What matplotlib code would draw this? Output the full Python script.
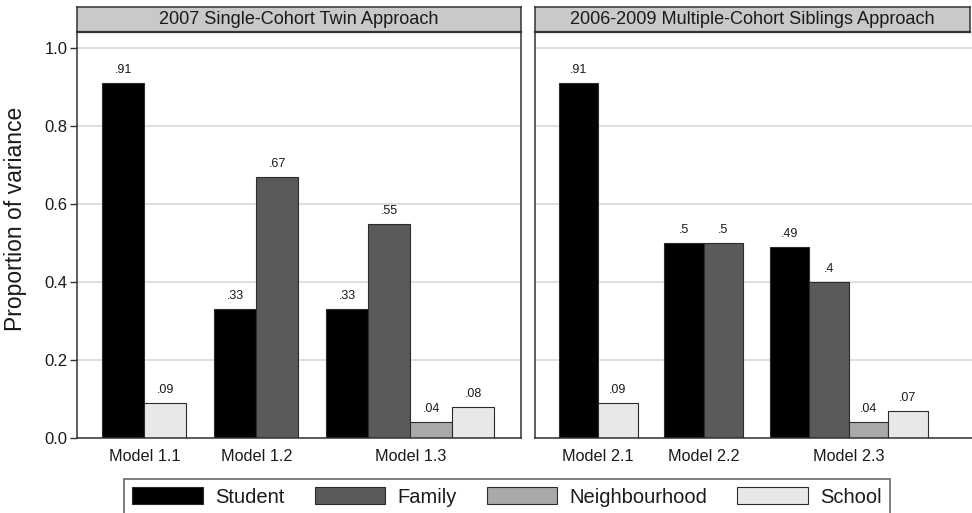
import matplotlib
matplotlib.use("Agg")
import matplotlib.pyplot as plt
import numpy as np

plt.rcParams['font.family'] = ['Liberation Sans', 'DejaVu Sans']

# variance components per model (nan = component not in the model)
components = ['Student', 'Family', 'Neighbourhood', 'School']
colors = ['#000000', '#5a5a5a', '#a9a9a9', '#e8e8e8']

models_twin = ['Model 1.1', 'Model 1.2', 'Model 1.3']
student_twin = [0.91, 0.33, 0.33]
family_twin = [np.nan, 0.67, 0.55]
neigh_twin = [np.nan, np.nan, 0.04]
school_twin = [0.09, np.nan, 0.08]

models_sib = ['Model 2.1', 'Model 2.2', 'Model 2.3']
student_sib = [0.91, 0.50, 0.49]
family_sib = [np.nan, 0.50, 0.40]
neigh_sib = [np.nan, np.nan, 0.04]
school_sib = [0.09, np.nan, 0.07]

titles = ['2007 Single-Cohort Twin Approach',
          '2006-2009 Multiple-Cohort Siblings Approach']

W, H = 972, 513
fig = plt.figure(figsize=(W / 100, H / 100), dpi=100)

def px_axes(x0, y0, x1, y1):
    # axes placed by pixel box (top-left origin)
    return fig.add_axes([x0 / W, 1 - y1 / H, (x1 - x0) / W, (y1 - y0) / H])

def fmt(v):
    s = f"{v:.2f}".rstrip('0')
    return s[1:] if s.startswith('0') else s

MARGIN, GAP = 0.6, 0.67

def draw_panel(ax, models, series, xmax):
    ax.set_ylim(0, 1.042)
    ax.set_xlim(0, xmax)
    ax.set_yticks([0, 0.2, 0.4, 0.6, 0.8, 1.0])
    ax.yaxis.grid(True, color='#dcdcdc', lw=1.3)
    ax.set_axisbelow(True)
    handles = {}
    x = MARGIN
    centers = []
    for g in range(len(models)):
        start = x
        for k, vals in enumerate(series):
            v = vals[g]
            if np.isnan(v):
                continue
            b = ax.bar(x, v, width=1.0, align='edge', color=colors[k],
                       edgecolor='#2b2b2b', linewidth=0.8, label=components[k])
            handles[components[k]] = b
            ax.annotate(fmt(v), (x + 0.5, v), xytext=(0, 5),
                        textcoords='offset points', ha='center', va='bottom',
                        fontsize=9, color='#1a1a1a')
            x += 1
        centers.append((start + x) / 2)
        x += GAP
    ax.set_xticks(centers)
    ax.set_xticklabels(models, fontsize=11.7, color='#1a1a1a')
    ax.tick_params(axis='x', length=0, pad=8)
    for s in ax.spines.values():
        s.set_color('#333333')
        s.set_linewidth(1.1)
    return handles

def strip(x0, x1, text):
    sax = px_axes(x0, 7, x1, 31.7)
    sax.set_facecolor('#c9c9c9')
    sax.set_xticks([])
    sax.set_yticks([])
    for s in sax.spines.values():
        s.set_color('#333333')
        s.set_linewidth(1.1)
    sax.spines['bottom'].set_linewidth(1.6)
    sax.text(0.5, 0.5, text, ha='center', va='center', fontsize=13.1,
             color='#1a1a1a', transform=sax.transAxes)

# left panel: 42 px per bar slot
ax1 = px_axes(77, 31.7, 521, 438)
h = draw_panel(ax1, models_twin,
               [student_twin, family_twin, neigh_twin, school_twin], 444 / 42)
ax1.tick_params(axis='y', length=5, width=1, color='#333333', pad=2,
                labelsize=12, labelcolor='#1a1a1a')
ax1.set_yticklabels(['0.0', '0.2', '0.4', '0.6', '0.8', '1.0'])
ax1.set_ylabel('Proportion of variance', fontsize=16.5, color='#1a1a1a')
ax1.yaxis.set_label_coords(-0.113, 0.54)
ax1.spines['top'].set_visible(False)
strip(77, 521, titles[0])

# right panel: 39.5 px per bar slot, runs to the edge
ax2 = px_axes(535, 31.7, 973, 438)
h2 = draw_panel(ax2, models_sib,
                [student_sib, family_sib, neigh_sib, school_sib], 438 / 39.5)
ax2.tick_params(axis='y', length=0, labelleft=False)
ax2.spines['top'].set_visible(False)
ax2.spines['right'].set_visible(False)
strip(535, 970, titles[1])
h.update(h2)

leg = fig.legend([h[c] for c in components], components, ncol=4,
                 loc='upper center', bbox_to_anchor=(507 / W, 1 - 479 / H),
                 fontsize=14.5, frameon=True, fancybox=False,
                 edgecolor='#333333', handlelength=3.5, handleheight=0.93,
                 handletextpad=0.6, columnspacing=1.5, borderpad=0.4,
                 borderaxespad=0)
leg.get_frame().set_linewidth(1.1)
for t in leg.get_texts():
    t.set_color('#1a1a1a')

fig.savefig('out.png', dpi=100, facecolor='white')
